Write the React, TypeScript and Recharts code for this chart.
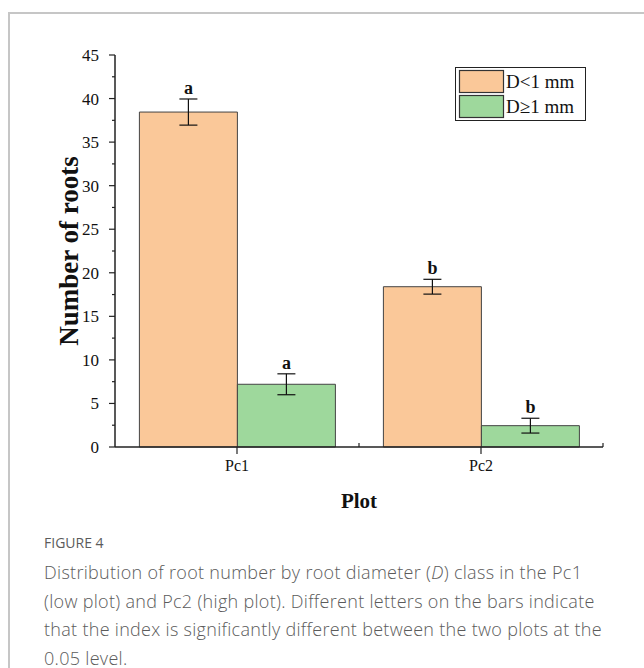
import React from 'react';
import { BarChart, Bar, XAxis, YAxis, ErrorBar, LabelList, Legend } from 'recharts';

const categories = ['Pc1', 'Pc2'];
const fineRoots = [38.45, 18.4];
const fineRootsErr = [1.5, 0.85];
const coarseRoots = [7.2, 2.45];
const coarseRootsErr = [1.2, 0.85];
const fineLetters = ['a', 'b'];
const coarseLetters = ['a', 'b'];
const seriesNames = ['D<1 mm', 'D\u22651 mm'];
const yTicks = [0, 2.5, 5, 7.5, 10, 12.5, 15, 17.5, 20, 22.5, 25, 27.5, 30, 32.5, 35, 37.5, 40, 42.5, 45];

const ORANGE = '#FAC899';
const GREEN = '#9ED89C';
const SERIF = '"Liberation Serif", "Times New Roman", serif';
const SANS = '"Open Sans", "Noto Sans", sans-serif';

const data = categories.map((c, i) => ({
  plot: c,
  fine: fineRoots[i],
  fineErr: fineRootsErr[i],
  fineLetter: fineLetters[i],
  coarse: coarseRoots[i],
  coarseErr: coarseRootsErr[i],
  coarseLetter: coarseLetters[i],
}));

const Y_TICK_SIZE = 6;
const Y_TICK_MARGIN = 10;

const YTick = (props: any) => {
  const { x, y, payload } = props;
  const v = Number(payload.value);
  const major = v % 5 === 0;
  const ax = Number(x) + Y_TICK_SIZE + Y_TICK_MARGIN;
  return (
    <g>
      <line x1={ax - (major ? 6 : 3)} x2={ax} y1={y} y2={y} stroke="#222" strokeWidth={1.2} />
      {major && (
        <text
          x={x}
          y={y}
          dy="0.35em"
          textAnchor="end"
          fontFamily={SERIF}
          fontSize={17}
          style={{ fontFamily: SERIF, fontSize: 17 }}
          fill="#111"
        >
          {v}
        </text>
      )}
    </g>
  );
};

const X_TICK_SIZE = 8;
const X_TICK_MARGIN = 5;

const XTick = (props: any) => {
  const { x, y, payload, width, visibleTicksCount } = props;
  const ay = Number(y) - X_TICK_SIZE - X_TICK_MARGIN;
  const band = Number(width) / Number(visibleTicksCount || 2);
  const bx = Number(x) + band / 2;
  return (
    <g>
      <line x1={x} x2={x} y1={ay} y2={ay + 7} stroke="#222" strokeWidth={1.2} />
      {isFinite(bx) && <line x1={bx} x2={bx} y1={ay} y2={ay - 4} stroke="#222" strokeWidth={1.2} />}
      <text x={x} y={y} dy="0.71em" textAnchor="middle" style={{ fontFamily: SERIF, fontSize: 16 }} fill="#111">
        {payload.value}
      </text>
    </g>
  );
};

const letterContent = (valueKey: 'fine' | 'coarse', errKey: 'fineErr' | 'coarseErr') => (props: any) => {
  const { x, y, width, height, index, value } = props;
  const row: any = data[index];
  const ppu = Number(height) / row[valueKey];
  const top = Number(y) - row[errKey] * ppu;
  return (
    <text
      x={Number(x) + Number(width) / 2}
      y={top - 5}
      textAnchor="middle"
      style={{ fontFamily: SERIF, fontWeight: 'bold', fontSize: 18 }}
      fill="#111"
    >
      {value}
    </text>
  );
};

const LegendBox = () => (
  <svg width={132} height={55} style={{ display: 'block' }}>
    <rect x={0.5} y={0.5} width={130} height={53} fill="#fff" stroke="#222" strokeWidth={1} />
    <rect x={4.5} y={3.5} width={44} height={22} fill={ORANGE} stroke="#333" strokeWidth={1.2} />
    <text x={51} y={21} style={{ fontFamily: SERIF, fontSize: 19 }} fill="#111">{seriesNames[0]}</text>
    <rect x={4.5} y={28.5} width={44} height={22} fill={GREEN} stroke="#333" strokeWidth={1.2} />
    <text x={51} y={46} style={{ fontFamily: SERIF, fontSize: 19 }} fill="#111">{seriesNames[1]}</text>
  </svg>
);

const YLabel = (props: any) => {
  const vb = props.viewBox || {};
  const bx = Number(vb.x) + 78;
  const cy = Number(vb.y) + Number(vb.height) / 2;
  return (
    <text
      x={bx}
      y={cy}
      transform={`rotate(-90 ${bx} ${cy})`}
      textAnchor="middle"
      style={{ fontFamily: SERIF, fontWeight: 'bold', fontSize: 27 }}
      fill="#111"
    >
      Number of roots
    </text>
  );
};

const XLabel = (props: any) => {
  const vb = props.viewBox || {};
  const cx = Number(vb.x) + Number(vb.width) / 2;
  const cy = Number(vb.y) + 54;
  return (
    <text x={cx} y={cy} textAnchor="middle" dominantBaseline="central" style={{ fontFamily: SERIF, fontWeight: 'bold', fontSize: 21 }} fill="#111">
      Plot
    </text>
  );
};

export default function App() {
  return (
    <div style={{ position: 'fixed', left: 0, top: 0, width: 644, height: 668, overflow: 'hidden', background: '#fff' }}>
      <div
        style={{
          position: 'absolute',
          left: 8,
          top: 12,
          width: 700,
          height: 700,
          borderTop: '2px solid #c6c6c6',
          borderLeft: '2px solid #c6c6c6',
        }}
      />
      <div style={{ position: 'absolute', left: 0, top: 0 }}>
        <BarChart
          width={644}
          height={530}
          data={data}
          margin={{ top: 55, right: 41, bottom: 0, left: 0 }}
          barCategoryGap="10%"
          barGap={0}
        >
          <XAxis
            dataKey="plot"
            height={83}
            axisLine={{ stroke: '#222', strokeWidth: 1.5 }}
            tickLine={false}
            tickSize={X_TICK_SIZE}
            tickMargin={X_TICK_MARGIN}
            tick={<XTick />}
            interval={0}
            label={<XLabel />}
          />
          <YAxis
            width={115}
            domain={[0, 45]}
            ticks={yTicks}
            interval={0}
            allowDecimals
            axisLine={{ stroke: '#222', strokeWidth: 1.5 }}
            tickLine={false}
            tickSize={Y_TICK_SIZE}
            tickMargin={Y_TICK_MARGIN}
            tick={<YTick />}
            label={<YLabel />}
          />
          <Legend
            layout="vertical"
            align="center"
            verticalAlign="middle"
            content={<LegendBox />}
            wrapperStyle={{ left: 455, top: 67, width: 132, height: 55 }}
          />
          <Bar dataKey="fine" name={seriesNames[0]} fill={ORANGE} stroke="#444" strokeWidth={1} isAnimationActive={false}>
            <ErrorBar dataKey="fineErr" width={9} stroke="#111" strokeWidth={1.2} direction="y" isAnimationActive={false} />
            <LabelList dataKey="fineLetter" content={letterContent('fine', 'fineErr')} />
          </Bar>
          <Bar dataKey="coarse" name={seriesNames[1]} fill={GREEN} stroke="#444" strokeWidth={1} isAnimationActive={false}>
            <ErrorBar dataKey="coarseErr" width={9} stroke="#111" strokeWidth={1.2} direction="y" isAnimationActive={false} />
            <LabelList dataKey="coarseLetter" content={letterContent('coarse', 'coarseErr')} />
          </Bar>
        </BarChart>
      </div>
      <div style={{ position: 'absolute', left: 44, top: 533, fontFamily: SANS, fontSize: 14, color: '#5b5b5b' }}>
        FIGURE 4
      </div>
      <div
        style={{
          position: 'absolute',
          left: 44,
          top: 558,
          width: 600,
          fontFamily: SANS,
          fontSize: 18,
          letterSpacing: 0.3,
          lineHeight: '28.5px',
          color: '#5b5b5b',
          fontWeight: 300,
          whiteSpace: 'nowrap',
        }}
      >
        Distribution of root number by root diameter (<i>D</i>) class in the Pc1
        <br />
        (low plot) and Pc2 (high plot). Different letters on the bars indicate
        <br />
        that the index is significantly different between the two plots at the
        <br />
        0.05 level.
      </div>
    </div>
  );
}
